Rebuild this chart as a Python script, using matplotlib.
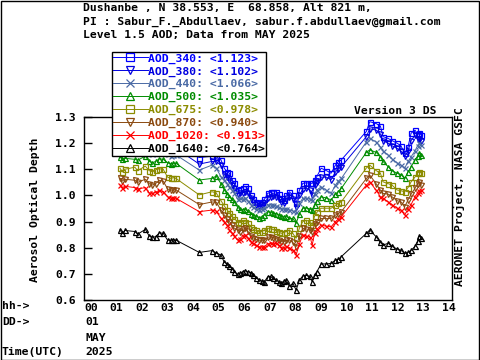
import matplotlib
matplotlib.use('Agg')
import matplotlib.pyplot as plt
from matplotlib.patches import Rectangle

# observation times (hours UTC, 01 May 2025)
hours = [1.41, 1.50, 1.60, 1.99, 2.10, 2.40, 2.55, 2.68, 2.80, 2.95, 3.10, 3.27, 3.40, 3.50, 3.60,
         4.51, 5.01, 5.17, 5.36, 5.49, 5.60, 5.69, 5.80, 5.88, 6.01, 6.10, 6.21, 6.30, 6.40, 6.53,
         6.62, 6.73, 6.86, 6.95, 7.06, 7.19, 7.30, 7.39, 7.52, 7.62, 7.72, 7.81, 7.91, 8.04, 8.17,
         8.30, 8.43, 8.56, 8.70, 8.85, 8.93, 9.02, 9.11, 9.28, 9.48, 9.67, 9.84, 9.95, 10.07,
         11.05, 11.18, 11.43, 11.60, 11.70, 11.90, 12.05, 12.25, 12.40, 12.55, 12.68, 12.80, 12.95,
         13.05, 13.12, 13.20]

aod_340 = [1.225, 1.218, 1.222, 1.218, 1.214, 1.228, 1.210, 1.205, 1.210, 1.220, 1.218, 1.204, 1.198, 1.200, 1.200,
           1.145, 1.150, 1.148, 1.136, 1.104, 1.090, 1.085, 1.060, 1.046, 1.020, 1.025, 1.030, 1.035, 1.027, 1.000,
           0.985, 0.975, 0.970, 0.975, 0.985, 1.008, 1.012, 1.014, 1.014, 1.005, 0.990, 0.983, 1.000, 1.014, 1.000,
           0.970, 1.020, 1.046, 1.048, 1.047, 1.046, 1.060, 1.072, 1.104, 1.095, 1.085, 1.116, 1.129, 1.136,
           1.245, 1.282, 1.275, 1.265, 1.225, 1.218, 1.210, 1.200, 1.190, 1.161, 1.186, 1.238, 1.250,
           1.235, 1.240, 1.230]
aod_380 = [1.205, 1.198, 1.202, 1.198, 1.194, 1.208, 1.190, 1.185, 1.190, 1.200, 1.198, 1.184, 1.178, 1.180, 1.180,
           1.120, 1.130, 1.130, 1.115, 1.080, 1.070, 1.060, 1.040, 1.030, 1.005, 1.010, 1.010, 1.015, 1.010, 0.990,
           0.975, 0.965, 0.960, 0.962, 0.970, 0.990, 0.995, 0.998, 0.995, 0.988, 0.975, 0.970, 0.985, 0.995, 0.985,
           0.955, 1.000, 1.025, 1.028, 1.020, 1.000, 1.040, 1.050, 1.070, 1.070, 1.060, 1.090, 1.100, 1.110,
           1.225, 1.255, 1.250, 1.235, 1.210, 1.200, 1.190, 1.180, 1.170, 1.150, 1.170, 1.210, 1.230,
           1.215, 1.215, 1.210]
aod_440 = [1.180, 1.172, 1.176, 1.172, 1.168, 1.182, 1.165, 1.160, 1.165, 1.175, 1.172, 1.158, 1.152, 1.155, 1.155,
           1.097, 1.116, 1.105, 1.072, 1.060, 1.045, 1.033, 1.020, 1.010, 0.985, 0.990, 0.985, 0.990, 0.980, 0.965,
           0.955, 0.950, 0.945, 0.948, 0.952, 0.964, 0.965, 0.962, 0.960, 0.955, 0.950, 0.948, 0.950, 0.945, 0.940,
           0.938, 0.970, 0.989, 0.990, 0.985, 0.983, 1.005, 1.020, 1.033, 1.020, 1.008, 1.040, 1.055, 1.065,
           1.205, 1.218, 1.205, 1.186, 1.170, 1.155, 1.140, 1.125, 1.116, 1.104, 1.130, 1.148, 1.170,
           1.190, 1.200, 1.193]
aod_500 = [1.146, 1.138, 1.142, 1.138, 1.135, 1.150, 1.130, 1.125, 1.130, 1.140, 1.138, 1.125, 1.120, 1.123, 1.123,
           1.059, 1.065, 1.074, 1.045, 1.021, 1.005, 0.995, 0.985, 0.975, 0.955, 0.948, 0.945, 0.948, 0.940, 0.930,
           0.925, 0.920, 0.915, 0.918, 0.925, 0.938, 0.935, 0.932, 0.930, 0.925, 0.920, 0.918, 0.920, 0.912, 0.912,
           0.893, 0.930, 0.951, 0.952, 0.948, 0.944, 0.965, 0.980, 0.995, 0.990, 0.983, 1.005, 1.015, 1.027,
           1.165, 1.174, 1.165, 1.148, 1.130, 1.110, 1.095, 1.085, 1.080, 1.065, 1.090, 1.110, 1.136,
           1.150, 1.161, 1.155]
aod_675 = [1.104, 1.090, 1.100, 1.108, 1.095, 1.112, 1.095, 1.090, 1.098, 1.102, 1.100, 1.070, 1.065, 1.068, 1.065,
           1.002, 1.014, 1.010, 0.980, 0.960, 0.945, 0.932, 0.920, 0.910, 0.900, 0.895, 0.905, 0.900, 0.895, 0.880,
           0.870, 0.866, 0.860, 0.862, 0.868, 0.875, 0.872, 0.870, 0.865, 0.860, 0.855, 0.858, 0.862, 0.868, 0.855,
           0.836, 0.875, 0.900, 0.905, 0.900, 0.887, 0.920, 0.935, 0.951, 0.951, 0.951, 0.962, 0.970, 0.976,
           1.105, 1.116, 1.095, 1.085, 1.052, 1.045, 1.040, 1.021, 1.018, 1.014, 1.030, 1.052, 1.070,
           1.085, 1.091, 1.085]
aod_870 = [1.065, 1.055, 1.062, 1.058, 1.050, 1.062, 1.045, 1.040, 1.045, 1.058, 1.055, 1.025, 1.020, 1.022, 1.021,
           0.965, 0.975, 0.975, 0.944, 0.925, 0.910, 0.900, 0.885, 0.875, 0.868, 0.862, 0.870, 0.874, 0.865, 0.845,
           0.838, 0.832, 0.829, 0.828, 0.829, 0.840, 0.842, 0.838, 0.835, 0.830, 0.823, 0.823, 0.828, 0.830, 0.820,
           0.804, 0.845, 0.874, 0.872, 0.868, 0.861, 0.890, 0.900, 0.912, 0.912, 0.912, 0.925, 0.930, 0.938,
           1.065, 1.078, 1.045, 1.020, 1.008, 1.005, 0.995, 0.980, 0.976, 0.957, 0.983, 1.005, 1.027,
           1.045, 1.052, 1.040]
aod_1020 = [1.040, 1.030, 1.035, 1.030, 1.025, 1.030, 1.010, 1.008, 1.012, 1.020, 1.015, 0.995, 0.990, 0.992, 0.989,
            0.938, 0.944, 0.940, 0.912, 0.900, 0.885, 0.868, 0.855, 0.845, 0.829, 0.835, 0.845, 0.849, 0.838, 0.822,
            0.817, 0.810, 0.804, 0.803, 0.804, 0.815, 0.817, 0.815, 0.817, 0.810, 0.800, 0.798, 0.805, 0.800, 0.790,
            0.772, 0.815, 0.849, 0.845, 0.840, 0.810, 0.855, 0.870, 0.887, 0.882, 0.880, 0.900, 0.910, 0.919,
            1.040, 1.052, 1.020, 0.995, 0.989, 0.976, 0.965, 0.952, 0.944, 0.925, 0.950, 0.965, 0.995,
            1.010, 1.018, 1.021]
aod_1640 = [0.868, 0.855, 0.866, 0.862, 0.852, 0.870, 0.845, 0.840, 0.842, 0.857, 0.855, 0.829, 0.828, 0.830, 0.829,
            0.782, 0.789, 0.780, 0.772, 0.744, 0.738, 0.731, 0.720, 0.708, 0.699, 0.702, 0.708, 0.712, 0.708, 0.705,
            0.695, 0.686, 0.676, 0.672, 0.670, 0.689, 0.690, 0.683, 0.676, 0.670, 0.664, 0.672, 0.676, 0.653, 0.664,
            0.638, 0.676, 0.692, 0.694, 0.690, 0.670, 0.696, 0.708, 0.738, 0.738, 0.740, 0.753, 0.755, 0.766,
            0.855, 0.868, 0.842, 0.820, 0.810, 0.817, 0.805, 0.795, 0.790, 0.778, 0.782, 0.790, 0.805,
            0.825, 0.845, 0.838]

labels = ['AOD_340: <1.123>', 'AOD_380: <1.102>', 'AOD_440: <1.066>', 'AOD_500: <1.035>',
          'AOD_675: <0.978>', 'AOD_870: <0.940>', 'AOD_1020: <0.913>', 'AOD_1640: <0.764>']
series = [aod_340, aod_380, aod_440, aod_500, aod_675, aod_870, aod_1020, aod_1640]
colors = ['#0000ff', '#0000e0', '#4a6aa5', '#008c00', '#8c8c00', '#8b4a10', '#ff0000', '#000000']
markers = ['s', 'v', 'x', '^', 's', 'v', 'x', '^']

hour_ticks = list(range(15))
hour_labels = ['%02d' % h for h in hour_ticks]
aod_ticks = [0.6, 0.7, 0.8, 0.9, 1.0, 1.1, 1.2, 1.3]

W, H = 480, 360
font = dict(family='DejaVu Sans Mono', weight='bold', size=8.2)

fig = plt.figure(figsize=(4.8, 3.6), dpi=100)
ax = fig.add_axes([84 / W, 1 - 300 / H, (452 - 84) / W, (300 - 117) / H])

for vals, lab, col, mk in zip(series, labels, colors, markers):
    ax.plot(hours, vals, color=col, lw=0.7, marker=mk, ms=3.6, mfc='none', mec=col, mew=0.9, label=lab)

ax.set_xlim(0, 14.4)
ax.set_ylim(0.6, 1.3)
ax.set_xticks(hour_ticks)
ax.set_xticklabels(hour_labels, ha='left', **font)
ax.set_yticks(aod_ticks)
ax.set_yticklabels(['%.1f' % v for v in aod_ticks], **font)
ax.tick_params(axis='y', direction='in', length=6, width=1, pad=6)
ax.tick_params(axis='x', direction='in', length=0, pad=2)
for s in ax.spines.values():
    s.set_linewidth(1)

leg = ax.legend(loc='upper left', bbox_to_anchor=(112 / W, 1 - 52 / H), bbox_transform=fig.transFigure,
                prop=font, frameon=True, fancybox=False, edgecolor='black', framealpha=1,
                borderpad=0.12, labelspacing=0.24, handlelength=3.0, handletextpad=0.0,
                borderaxespad=0, numpoints=1, labelcolor='linecolor')
leg.get_frame().set_linewidth(1)
for hd in leg.legend_handles:
    hd.set_markersize(6)

# header
fig.text(83 / W, 1 - 8 / H, 'Dushanbe , N 38.553, E  68.858, Alt 821 m,', va='center', ha='left', **font)
fig.text(83 / W, 1 - 22 / H, 'PI : Sabur_F._Abdullaev, sabur.f.abdullaev@gmail.com', va='center', ha='left', **font)
fig.text(83 / W, 1 - 35 / H, 'Level 1.5 AOD; Data from MAY 2025', va='center', ha='left', **font)
fig.text(436 / W, 1 - 111 / H, 'Version 3 DS', va='center', ha='right', **font)

fig.text(35 / W, 1 - 210 / H, 'Aerosol Optical Depth', rotation=90, va='center', ha='center', **font)
fig.text(459 / W, 1 - 197 / H, 'AERONET Project, NASA GSFC', rotation=90, va='center', ha='center', **font)

# time axis annotations
fig.text(2 / W, 1 - 306 / H, 'hh->', va='center', ha='left', **font)
fig.text(2 / W, 1 - 322 / H, 'DD->', va='center', ha='left', **font)
fig.text(2 / W, 1 - 352 / H, 'Time(UTC)', va='center', ha='left', **font)
fig.text(85 / W, 1 - 322 / H, '01', va='center', ha='left', **font)
fig.text(85 / W, 1 - 338 / H, 'MAY', va='center', ha='left', **font)
fig.text(85 / W, 1 - 352 / H, '2025', va='center', ha='left', **font)

fig.patches.append(Rectangle((0.5 / W, 0.5 / H), 1 - 1.5 / W, 1 - 1.5 / H, transform=fig.transFigure,
                             fill=False, edgecolor='black', lw=1))

fig.savefig('out.png', dpi=100)
